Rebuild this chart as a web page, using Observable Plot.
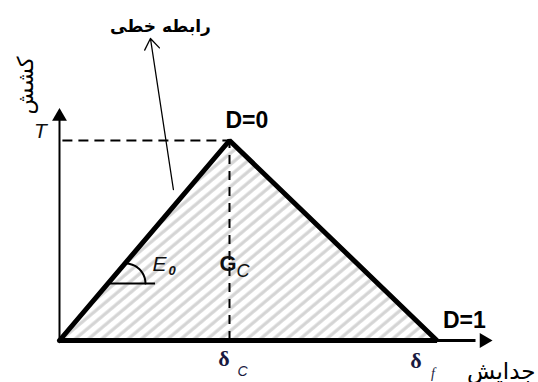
<!DOCTYPE html>
<html>
<head>
<meta charset="utf-8">
<script src="https://cdn.jsdelivr.net/npm/d3@7"></script>
<script src="https://cdn.jsdelivr.net/npm/@observablehq/plot@0.6"></script>
<style>
  html, body { margin: 0; padding: 0; background: #fff; overflow: hidden; }
</style>
</head>
<body>
<div id="chart"></div>
<script>
// --- data (traction–separation law) ---
const separation = [0, 1, 2.22];      // 0, δc, δf
const traction   = [0, 1, 0];         // 0, T, 0
const stateLabels = ["D=0", "D=1"];
const tickSymbols = ["δ", "δ"];
const tickSubscripts = ["C", "f"];
const yTitle = "کشش";
const xTitle = "جدایش";
const lineNote = "رابطه خطی";
const peakLabel = "T";
const energyLabel = ["G", "C"];
const stiffnessLabel = ["E", "0"];

const tri = separation.map((s, i) => ({s, t: traction[i]}));
const closed = [...tri, tri[0]];
const deltaC = separation[1], deltaF = separation[2], T = traction[1];

// angle arc for E0 (in data units)
const arcC = {x: 0.388, y: 0.285}, arcR = 20;
const arc = d3.range(0, 96, 5).map(a => ({
  x: arcC.x + arcR / 170 * Math.cos(a * Math.PI / 180),
  y: arcC.y + arcR / 200 * Math.sin(a * Math.PI / 180)
}));

const latin = "Liberation Sans, Arial, sans-serif";
const serif = "Liberation Serif, Times New Roman, serif";
const persian = "DejaVu Sans, sans-serif";

const svg = Plot.plot({
  width: 538, height: 382,
  marginLeft: 59, marginRight: 0, marginTop: 0, marginBottom: 42,
  x: {axis: null, domain: [0, 2.8176]},
  y: {axis: null, domain: [0, 1.7]},
  style: {background: "white", overflow: "visible"},
  marks: [
    Plot.areaY(tri, {x: "s", y: "t", fill: "url(#hatch)"}),
    Plot.ruleY([T], {x1: 0.02, x2: deltaC, stroke: "#000", strokeWidth: 2, strokeDasharray: "10,6"}),
    Plot.ruleX([deltaC], {y1: 0, y2: T, stroke: "#000", strokeWidth: 2, strokeDasharray: "9,7"}),
    // axes
    Plot.ruleX([0], {y1: 0, y2: 1.1, stroke: "#000", strokeWidth: 2}),
    Plot.ruleY([0], {x1: 0, x2: 2.45, stroke: "#000", strokeWidth: 3}),
    Plot.dot([{x: 0, y: 1.12}], {x: "x", y: "y", symbol: "triangle", r: 5.5, fill: "#000", stroke: null}),
    Plot.dot([{x: 2.497, y: 0}], {x: "x", y: "y", symbol: "triangle", r: 5.5, rotate: 90, fill: "#000", stroke: null}),
    // triangle outline
    Plot.line(closed, {x: "s", y: "t", stroke: "#000", strokeWidth: 5, strokeLinejoin: "miter"}),
    // annotation arrow
    Plot.arrow([{x1: 0.67, y1: 0.755, x2: 0.535, y2: 1.51}], {x1: "x1", y1: "y1", x2: "x2", y2: "y2", stroke: "#000", strokeWidth: 1.3, headLength: 15, headAngle: 70}),
    Plot.text([lineNote], {x: 0.594, y: 1.545, text: d => d, lineAnchor: "bottom", fontSize: 17, fontWeight: "bold", fontFamily: persian, fill: "#000"}),
    // angle E0
    Plot.line(arc, {x: "x", y: "y", stroke: "#000", strokeWidth: 2}),
    Plot.ruleY([0.285], {x1: 0.3, x2: 0.565, stroke: "#000", strokeWidth: 2}),
    Plot.text([stiffnessLabel[0]], {x: 0.547, y: 0.35, text: d => d, textAnchor: "start", lineAnchor: "bottom", fontSize: 21, fontStyle: "italic", fontFamily: latin, fill: "#111"}),
    Plot.text([stiffnessLabel[1]], {x: 0.547, y: 0.35, dx: 16, dy: 4, text: d => d, textAnchor: "start", lineAnchor: "bottom", fontSize: 13, fontWeight: "bold", fontStyle: "italic", fontFamily: latin, fill: "#111"}),
    // Gc
    Plot.text([energyLabel[0]], {x: deltaC, y: 0.35, dx: -10, text: d => d, textAnchor: "start", lineAnchor: "bottom", fontSize: 22, fontWeight: "bold", fontFamily: latin, fill: "#111"}),
    Plot.text([energyLabel[1]], {x: deltaC, y: 0.35, dx: 7, dy: 6, text: d => d, textAnchor: "start", lineAnchor: "bottom", fontSize: 18, fontStyle: "italic", fontFamily: latin, fill: "#111"}),
    // T
    Plot.text([peakLabel], {x: 0, y: T, dx: -19, dy: -3, text: d => d, textAnchor: "middle", lineAnchor: "bottom", fontSize: 21, fontStyle: "italic", fontFamily: latin, fill: "#111"}),
    // D labels
    Plot.text([stateLabels[0]], {x: deltaC, y: T, dx: -4, dy: -13, text: d => d, textAnchor: "start", lineAnchor: "bottom", fontSize: 23, fontWeight: "bold", fontFamily: latin, fill: "#000"}),
    Plot.text([stateLabels[1]], {x: deltaF, y: 0, dx: 6, dy: -13, text: d => d, textAnchor: "start", lineAnchor: "bottom", fontSize: 23, fontWeight: "bold", fontFamily: latin, fill: "#000"}),
    // x ticks δc, δf
    Plot.text([tickSymbols[0]], {x: deltaC, y: 0, dx: -5.5, dy: 25, text: d => d, textAnchor: "middle", lineAnchor: "bottom", fontSize: 22, fontWeight: "bold", fontFamily: serif, fill: "#1a1a40"}),
    Plot.text([tickSubscripts[0]], {x: deltaC, y: 0, dx: 8, dy: 35, text: d => d, textAnchor: "start", lineAnchor: "bottom", fontSize: 14, fontStyle: "italic", fontFamily: latin, fill: "#1a1a40"}),
    Plot.text([tickSymbols[1]], {x: deltaF, y: 0, dx: -21, dy: 27, text: d => d, textAnchor: "middle", lineAnchor: "bottom", fontSize: 22, fontWeight: "bold", fontFamily: serif, fill: "#1a1a40"}),
    Plot.text([tickSubscripts[1]], {x: deltaF, y: 0, dx: -6, dy: 37, text: d => d, textAnchor: "start", lineAnchor: "bottom", fontSize: 14, fontStyle: "italic", fontFamily: serif, fill: "#1a1a40"}),
    // axis titles
    Plot.text([xTitle], {x: 2.8, y: 0, dy: 38, text: d => d, textAnchor: "end", lineAnchor: "bottom", fontSize: 23, fontFamily: persian, fill: "#000"}),
    Plot.text([yTitle], {x: -0.2, y: 1.275, text: d => d, rotate: -90, textAnchor: "middle", lineAnchor: "middle", fontSize: 22, fontFamily: persian, fill: "#000"})
  ]
});

// hatch pattern for the fracture-energy area
const defs = d3.select(svg).insert("defs", ":first-child");
const pat = defs.append("pattern")
  .attr("id", "hatch")
  .attr("patternUnits", "userSpaceOnUse")
  .attr("width", 8.5).attr("height", 8.5)
  .attr("patternTransform", "rotate(50)");
pat.append("line")
  .attr("x1", 2).attr("y1", 0).attr("x2", 2).attr("y2", 8.5)
  .attr("stroke", "#d4d4d4").attr("stroke-width", 3.2);

document.getElementById("chart").appendChild(svg);
</script>
</body>
</html>
